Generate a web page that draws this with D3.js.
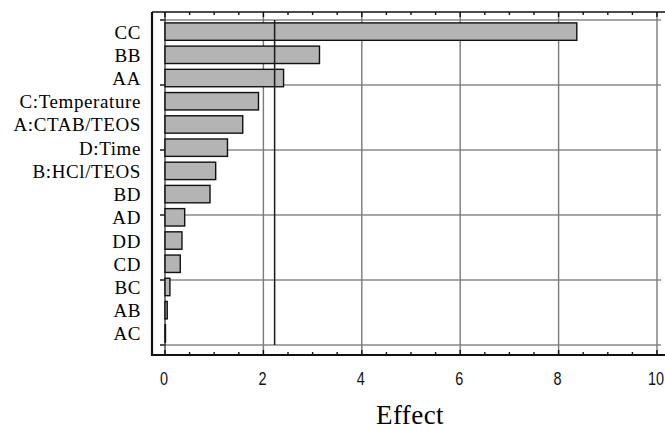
<!DOCTYPE html>
<html>
<head>
<meta charset="utf-8">
<script src="https://cdn.jsdelivr.net/npm/d3@7"></script>
<style>
  body { margin: 0; background: #fff; }
  .term { font-family: "Liberation Serif", "Times New Roman", serif; font-size: 19px; letter-spacing: 0.6px; }
  .tick text { font-family: "Liberation Sans", Arial, sans-serif; font-size: 18.5px; fill: #111; }
  .title { font-family: "Liberation Serif", "Times New Roman", serif; font-size: 27px; letter-spacing: 0.4px; }
</style>
</head>
<body>
<svg id="canvas" width="665" height="430"></svg>
<script>
// datos del diagrama de Pareto (efectos estandarizados)
let terms = ['CC', 'BB', 'AA', 'C:Temperature', 'A:CTAB/TEOS', 'D:Time', 'B:HCl/TEOS',
             'BD', 'AD', 'DD', 'CD', 'BC', 'AB', 'AC'];
let effects = [8.37, 3.14, 2.41, 1.9, 1.58, 1.27, 1.03, 0.915, 0.4, 0.345, 0.31, 0.1, 0.045, 0.01];
let xTicks = [0, 2, 4, 6, 8, 10];
let critical = 2.228; // linea de significancia
let gridRows = [0, 1, 2, 3, 4, 5];

let canvas = d3.select('#canvas');

let frameLeft = 152, frameTop = 12, frameBottom = 355;

let x = d3.scaleLinear().domain([0, 10]).range([165, 657]);
let y = d3.scaleBand().domain(terms).range([20, 345]).paddingInner(0.25).paddingOuter(0.125);
let yGrid = d3.scaleLinear().domain([0, 5]).range([20, 345]);

// lineas de la reticula
canvas.append('g').selectAll('line')
    .data(gridRows)
    .enter()
    .append('line')
    .attr('x1', 160).attr('x2', 661)
    .attr('y1', d => yGrid(d)).attr('y2', d => yGrid(d))
    .attr('stroke', '#8a8a8a').attr('stroke-width', 1.3);

canvas.append('g').selectAll('line')
    .data(gridRows)
    .enter()
    .append('line')
    .attr('x1', 160).attr('x2', 166)
    .attr('y1', d => yGrid(d)).attr('y2', d => yGrid(d))
    .attr('stroke', '#222').attr('stroke-width', 1.3);

canvas.append('g').selectAll('line')
    .data(xTicks)
    .enter()
    .append('line')
    .attr('x1', d => x(d)).attr('x2', d => x(d))
    .attr('y1', frameTop).attr('y2', frameBottom)
    .attr('stroke', d => d === 0 ? '#444' : '#7a7a7a').attr('stroke-width', 1.4);

// barras
canvas.append('g').selectAll('rect')
    .data(terms)
    .enter()
    .append('rect')
    .attr('x', x(0))
    .attr('y', d => y(d))
    .attr('width', (d, i) => x(effects[i]) - x(0))
    .attr('height', y.bandwidth())
    .attr('fill', '#b4b4b4')
    .attr('stroke', '#111')
    .attr('stroke-width', 1.4);

// linea de referencia
canvas.append('line')
    .attr('x1', x(critical)).attr('x2', x(critical))
    .attr('y1', yGrid(0)).attr('y2', yGrid(5))
    .attr('stroke', '#1a1a1a').attr('stroke-width', 1.5);

// marco
canvas.append('line').attr('x1', frameLeft).attr('x2', 665).attr('y1', frameTop).attr('y2', frameTop)
    .attr('stroke', '#111').attr('stroke-width', 1.6);
canvas.append('line').attr('x1', frameLeft).attr('x2', 665).attr('y1', frameBottom).attr('y2', frameBottom)
    .attr('stroke', '#111').attr('stroke-width', 2.2);
canvas.append('line').attr('x1', frameLeft).attr('x2', frameLeft).attr('y1', frameTop).attr('y2', frameBottom + 1)
    .attr('stroke', '#111').attr('stroke-width', 2.2);

// marcas menores y mayores arriba y abajo
let minor = d3.range(0, 10.01, 0.5);
canvas.append('g').selectAll('line')
    .data(minor)
    .enter()
    .append('line')
    .attr('x1', d => x(d)).attr('x2', d => x(d))
    .attr('y1', frameTop).attr('y2', d => frameTop + (d % 2 === 0 ? 5 : 3))
    .attr('stroke', '#111').attr('stroke-width', 1.4);
canvas.append('g').selectAll('line')
    .data(minor)
    .enter()
    .append('line')
    .attr('x1', d => x(d)).attr('x2', d => x(d))
    .attr('y1', frameBottom).attr('y2', d => frameBottom - (d % 2 === 0 ? 5 : 3))
    .attr('stroke', '#111').attr('stroke-width', 1.4);

// eje x (solo etiquetas, letra angosta)
let xAxis = d3.axisBottom(x).tickValues(xTicks).tickSize(0).tickPadding(17);
canvas.append('g')
    .attr('transform', `translate(0,${frameBottom})`)
    .call(xAxis)
    .call(g => g.select('.domain').remove())
    .call(g => g.selectAll('.tick text').attr('transform', 'translate(-1.5,0) scale(0.78,1)'));

// etiquetas de los terminos
canvas.append('g').selectAll('text')
    .data(terms)
    .enter()
    .append('text')
    .attr('class', 'term')
    .attr('x', 141)
    .attr('y', d => y(d) + y.bandwidth() / 2 + 7)
    .attr('text-anchor', 'end')
    .text(d => d);

canvas.append('text')
    .attr('class', 'title')
    .attr('x', 410)
    .attr('y', 424)
    .attr('text-anchor', 'middle')
    .text('Effect');
</script>
</body>
</html>
